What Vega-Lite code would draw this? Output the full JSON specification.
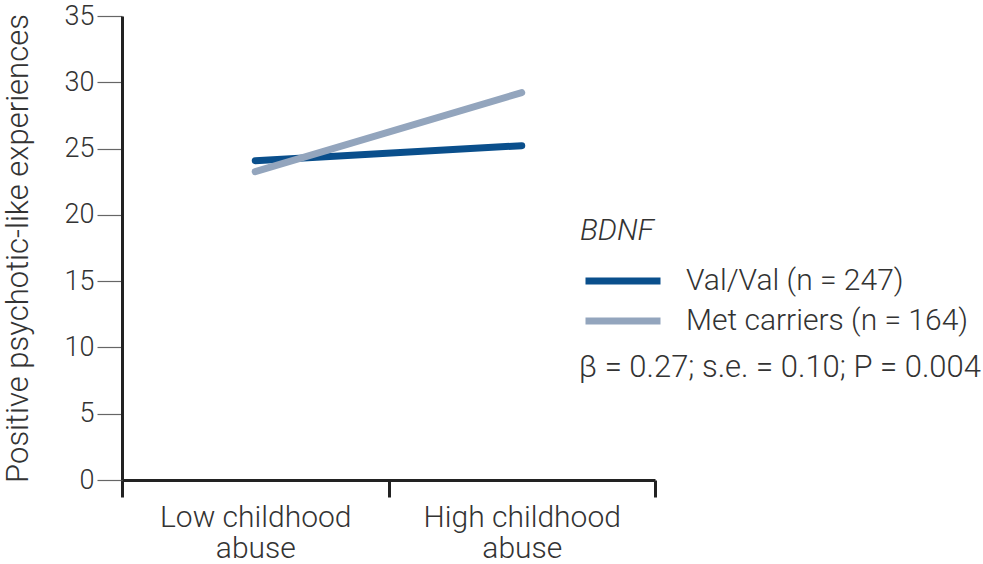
{
  "$schema": "https://vega.github.io/schema/vega-lite/v6.json",
  "width": 533,
  "height": 464,
  "autosize": {"type": "none"},
  "padding": {"left": 122, "top": 16, "right": 328, "bottom": 84},
  "background": "white",
  "config": {
    "view": {"stroke": null},
    "font": "Roboto",
    "text": {"font": "Roboto"}
  },
  "data": {
    "values": [
      {"abuse": "Low childhood abuse", "genotype": "Val/Val (n = 247)", "ple": 24.09},
      {"abuse": "High childhood abuse", "genotype": "Val/Val (n = 247)", "ple": 25.22},
      {"abuse": "Low childhood abuse", "genotype": "Met carriers (n = 164)", "ple": 23.26},
      {"abuse": "High childhood abuse", "genotype": "Met carriers (n = 164)", "ple": 29.22}
    ]
  },
  "layer": [
    {
      "mark": {"type": "line", "strokeWidth": 7, "strokeCap": "round"},
      "encoding": {
        "x": {
          "field": "abuse",
          "type": "nominal",
          "sort": ["Low childhood abuse", "High childhood abuse"],
          "scale": {"paddingInner": 0, "paddingOuter": 0},
          "axis": {
            "title": null,
            "labelAngle": 0,
            "labelLimit": 0,
            "labelExpr": "datum.label == 'Low childhood abuse' ? ['Low childhood', 'abuse'] : (datum.label == 'High childhood abuse' ? ['High childhood', 'abuse'] : '')",
            "labelFont": "Roboto",
            "labelFontWeight": 300,
            "labelFontSize": 30,
            "labelLineHeight": 31,
            "labelColor": "#333333",
            "labelPadding": 5,
            "labelBaseline": "top",
            "tickBand": "extent",
            "tickSize": 17,
            "tickWidth": 3,
            "tickColor": "#222222",
            "domainWidth": 3,
            "domainColor": "#222222"
          }
        },
        "y": {
          "field": "ple",
          "type": "quantitative",
          "scale": {"domain": [0, 35], "nice": false, "zero": true},
          "axis": {
            "title": "Positive psychotic-like experiences",
            "titleFont": "Roboto",
            "titleFontSize": 31,
            "titleFontWeight": 300,
            "titleColor": "#333333",
            "titlePadding": 30,
            "values": [0, 5, 10, 15, 20, 25, 30, 35],
            "labelFont": "Roboto",
            "labelFontWeight": 300,
            "labelFontSize": 27,
            "labelColor": "#333333",
            "labelPadding": 3,
            "tickSize": 25,
            "tickWidth": 1.2,
            "tickColor": "#666666",
            "domainWidth": 3,
            "domainColor": "#222222",
            "grid": false
          }
        },
        "color": {
          "field": "genotype",
          "type": "nominal",
          "scale": {
            "domain": ["Val/Val (n = 247)", "Met carriers (n = 164)"],
            "range": ["#0a4f8c", "#93a5bd"]
          },
          "legend": {
            "title": "BDNF",
            "titleFont": "Roboto",
            "titleFontStyle": "italic",
            "titleFontWeight": 300,
            "titleFontSize": 30,
            "titleColor": "#333333",
            "titlePadding": 19,
            "orient": "none",
            "legendX": 458,
            "legendY": 200,
            "symbolType": "M-0.84,0H5.16",
            "symbolSize": 625,
            "symbolStrokeWidth": 7,
            "labelFont": "Roboto",
            "labelFontWeight": 300,
            "labelFontSize": 30,
            "labelLimit": 0,
            "labelColor": "#333333",
            "labelOffset": 74,
            "rowPadding": 9
          }
        }
      }
    },
    {
      "data": {"values": [{"abuse": "High childhood abuse", "ple": 8.45, "label": "β = 0.27; s.e. = 0.10; P = 0.004"}]},
      "mark": {"type": "text", "align": "left", "baseline": "middle", "dx": 57, "fontSize": 31, "fontWeight": 300, "font": "Roboto", "color": "#333333"},
      "encoding": {
        "x": {"field": "abuse", "type": "nominal", "sort": ["Low childhood abuse", "High childhood abuse"]},
        "y": {"field": "ple", "type": "quantitative"},
        "text": {"field": "label"}
      }
    }
  ]
}
